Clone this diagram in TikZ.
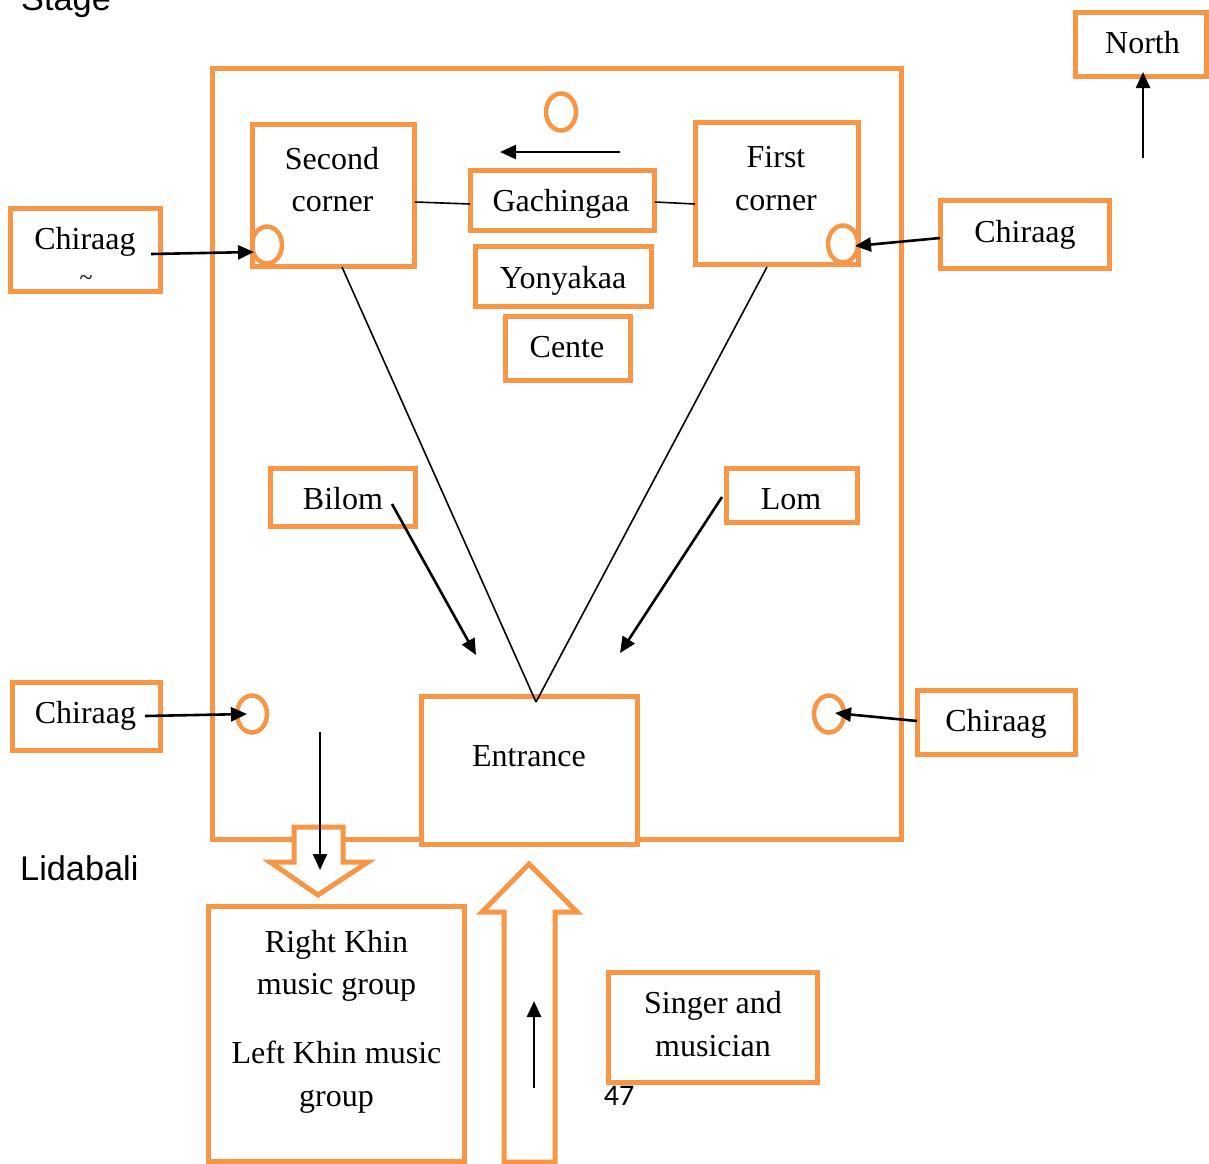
\documentclass[tikz,border=0pt]{standalone}
\usepackage{fontspec}
\setmainfont{Liberation Serif}
\newfontfamily\labelsans{Liberation Sans}
\newfontfamily\pagefont{Carlito}
\usetikzlibrary{arrows.meta,shapes.geometric}
\definecolor{frameorange}{HTML}{F79646}
\tikzset{
  orange line/.style={draw=frameorange,line width=5pt,line join=miter},
  obox/.style={orange line,fill=white,rectangle,inner sep=0pt,outer sep=0pt},
  oring/.style={orange line,line width=4.5pt,ellipse,inner sep=0pt,outer sep=0pt,minimum width=30pt,minimum height=37pt},
  txt/.style={anchor=base,inner sep=0pt,font=\fontsize{32}{38}\selectfont},
  sanstxt/.style={anchor=base west,inner sep=0pt,font=\labelsans\fontsize{34.3}{40}\selectfont},
  pointer/.style={draw=black,line width=2.6pt,-{Triangle[length=16pt,width=14pt]}},
  thin link/.style={draw=black,line width=1.6pt},
}
\newcommand{\orangebox}[5]{\node[obox,minimum width=#4pt-#2pt-1.5pt,minimum height=#5pt-#3pt-1.5pt] (#1) at ({(#2+#4)/2-0.75},{(#3+#5)/2-0.75}) {};}
\begin{document}
\begin{tikzpicture}[x=1pt,y=-1pt]
\useasboundingbox (0,0) rectangle (1209,1163);
\clip (0,0) rectangle (1209,1163);
\fill[white] (0,0) rectangle (1209,1163);
% outer frame
\orangebox{frame}{212}{68}{902.5}{840.5}
% boxes
\orangebox{second}{252}{124}{415.5}{267.5}
\orangebox{first}{695}{122}{859.5}{265.5}
\orangebox{gach}{470}{170}{655.5}{231.5}
\orangebox{yony}{475}{246}{652.5}{307.5}
\orangebox{cente}{505}{316}{631.5}{381.5}
\orangebox{chlt}{10}{208}{161.5}{292.5}
\orangebox{north}{1075}{12}{1207.5}{77.5}
\orangebox{chrt}{940}{200}{1110.5}{269.5}
\orangebox{bilom}{270}{468}{416.5}{527.5}
\orangebox{lom}{726}{468}{858.5}{523.5}
\orangebox{chlb}{12}{682}{161.5}{751.5}
\orangebox{chrb}{917}{690}{1076.5}{755.5}
\orangebox{entrance}{421}{696}{638.5}{845.5}
\orangebox{khin}{208}{906}{465.5}{1162.5}
\orangebox{singer}{608}{972}{818.5}{1083.5}
% block arrows
\filldraw[orange line,fill=white,miter limit=10] (294,827) -- (343,827) -- (343,862) -- (368,862) -- (318,895) -- (270,862) -- (294,862) -- cycle;
\filldraw[orange line,fill=white,miter limit=10] (504,1162) -- (504,912) -- (482,912) -- (529,864) -- (577,912) -- (555,912) -- (555,1162) -- cycle;
% rings
\node[oring] (ringtop) at (561,112) {};
\node[oring] (ringsecond) at (267,245) {};
\node[oring] (ringfirst) at (843,244) {};
\node[oring] (ringlb) at (252,714) {};
\node[oring] (ringrb) at (829,714) {};
% texts
\node[txt] (t1) at (332,169) {Second};
\node[txt] (t2) at (332.5,211) {corner};
\node[txt] (t3) at (776,167) {First};
\node[txt] (t4) at (776,210) {corner};
\node[txt] (t5) at (561,211) {Gachingaa};
\node[txt] (t6) at (563,288) {Yonyakaa};
\node[txt] (t7) at (567,357) {Cente};
\node[txt] (t8) at (85,249) {Chiraag};
\begin{scope}
\clip (70,270) rectangle (100,280.5);
\node[txt,font=\fontsize{24}{24}\selectfont] (t9) at (86,285) {\textasciitilde};
\end{scope}
\node[txt] (t10) at (1142.5,53) {North};
\node[txt] (t11) at (1025,242) {Chiraag};
\node[txt] (t12) at (343,509) {Bilom};
\node[txt] (t13) at (791,509) {Lom};
\node[txt] (t14) at (85.5,723) {Chiraag};
\node[txt] (t15) at (996,731) {Chiraag};
\node[txt] (t16) at (529,766) {Entrance};
\node[txt] (t17) at (336.5,952) {Right Khin};
\node[txt] (t18) at (336.5,994) {music group};
\node[txt] (t19) at (336.5,1063) {Left Khin music};
\node[txt] (t20) at (336.5,1106) {group};
\node[txt] (t21) at (713,1013) {Singer and};
\node[txt] (t22) at (713,1056) {musician};
\node[sanstxt] (stage) at (21,10) {Stage};
\node[sanstxt] (lida) at (20,880) {Lidabali};
\node[anchor=base,inner sep=0pt,font=\pagefont\fontsize{30}{36}\selectfont] (page) at (619,1105) {47};
% free ends
\coordinate (apex) at (536,702);
\coordinate (s1) at (415,202); \coordinate (g1) at (470,204);
\coordinate (g2) at (655,202); \coordinate (f1) at (695,204);
\coordinate (s2) at (342,267); \coordinate (f2) at (767,267);
\coordinate (a1s) at (151,254); \coordinate (a1e) at (254,252);
\coordinate (a2s) at (940,238); \coordinate (a2e) at (855,246);
\coordinate (a3s) at (145,716); \coordinate (a3e) at (247,714);
\coordinate (a4s) at (917,721); \coordinate (a4e) at (835,713);
\coordinate (a5s) at (320,732); \coordinate (a5e) at (320,870);
\coordinate (a6s) at (534,1088); \coordinate (a6e) at (534,1001);
\coordinate (a7s) at (620,152); \coordinate (a7e) at (500,152);
\coordinate (a8s) at (1143,158); \coordinate (a8e) at (1143,72);
\coordinate (a9s) at (392,504); \coordinate (a9e) at (476,655);
\coordinate (a10s) at (722,497); \coordinate (a10e) at (620,653);
% thin links
\draw[thin link] (s1) -- (g1);
\draw[thin link] (g2) -- (f1);
\draw[thin link] (s2) -- (apex);
\draw[thin link] (f2) -- (apex);
% pointers
\draw[pointer] (a1s) -- (a1e);
\draw[pointer] (a2s) -- (a2e);
\draw[pointer] (a3s) -- (a3e);
\draw[pointer] (a4s) -- (a4e);
\draw[pointer] (a5s) -- (a5e);
\draw[pointer] (a6s) -- (a6e);
\draw[pointer] (a7s) -- (a7e);
\draw[pointer] (a8s) -- (a8e);
\draw[pointer] (a9s) -- (a9e);
\draw[pointer] (a10s) -- (a10e);
\end{tikzpicture}
\end{document}
